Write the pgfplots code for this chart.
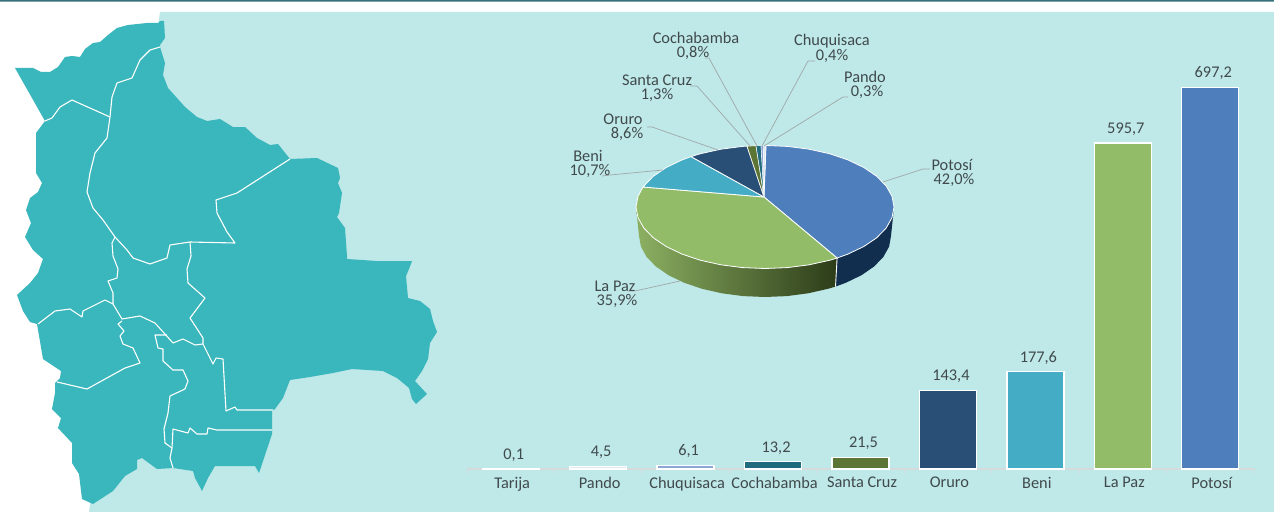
\documentclass[border=0pt]{standalone}
\usepackage{fontspec}
\setmainfont{Carlito}
\usepackage{pgfplots}
\pgfplotsset{compat=1.18}
\definecolor{bgteal}{HTML}{BFE8E8}
\definecolor{topbar}{HTML}{37707A}
\definecolor{mapteal}{HTML}{3AB6BD}
\definecolor{txt}{HTML}{404A4C}
\definecolor{leader}{HTML}{A0A8A8}
\definecolor{cPot}{HTML}{4E7FBC}
\definecolor{cPaz}{HTML}{92BC68}
\definecolor{cBen}{HTML}{44ACC4}
\definecolor{cOru}{HTML}{294F77}
\definecolor{cSC}{HTML}{5C7535}
\definecolor{cCoc}{HTML}{206B7D}
\definecolor{cChu}{HTML}{8CA6D6}
\definecolor{cPan}{HTML}{DFE8EE}
\definecolor{cTar}{HTML}{E4E8E8}
\definecolor{axisgray}{HTML}{D6DADA}
\definecolor{sideNavy}{HTML}{112E4E}
\definecolor{sideL}{HTML}{8CB062}
\definecolor{sideR}{HTML}{2C3C18}
\newcommand{\lbl}{\fontsize{16.4}{18}\selectfont}
\tikzset{pie label/.style={font=\lbl,text=txt,align=center,inner sep=0pt},
  border/.style={white,line width=1.1bp,line join=round},
  lead/.style={leader,line width=0.7bp}}
\begin{document}
\begin{tikzpicture}
\begin{axis}[name=canvas,at={(0bp,0bp)},anchor=south west,scale only axis,width=1274bp,height=512bp,
  xmin=0,xmax=1274,ymin=0,ymax=512,y dir=reverse,hide axis,clip=false]
% page
\addplot[fill=white,draw=none] coordinates {(0,0)(1274,0)(1274,512)(0,512)(0,0)};
\addplot[fill=topbar,draw=none] coordinates {(0,0)(1274,0)(1274,1.7)(0,1.7)(0,0)};
\addplot[fill=bgteal,draw=none] coordinates {(160,12)(1274,12)(1274,512)(89,512)(160,12)};
% map outline
\addplot[fill=mapteal,draw=none] coordinates {
(15,68)(33,68)(41,72)(50,72)(58,67)(65,57)(72,56)(80,57)(85,49)(93,43)(100,42)(108,35)(117,28)(128,25)(147,23)(158,23)(160,21)(164,21)(165,38)(160,45)
(160,47)(165,63)(163,75)(168,88)(177,98)(185,107)(197,117)(207,121)(220,119)(233,127)(245,127)(257,138)(270,145)(278,144)(290,159)
(317,158)(338,168)(340,178)(338,183)(342,193)(339,213)(337,217)(345,228)(347,256)
(347,259)(377,261)(412,261)(409,269)(406,276)(408,298)(420,301)(430,309)(433,321)(437,332)(430,343)(428,359)(422,371)(415,381)(427,394)(416,404)(412,399)(409,388)(397,378)(383,371)(352,369)(333,373)(310,377)(290,380)(283,398)(275,409)(272,411)(272,434)
(259,473)(255,466)(215,466)(208,478)(202,491)(195,478)(193,471)(173,468)(157,469)(142,458)(137,460)(137,469)(125,476)(113,491)(93,504)(82,499)(79,474)(72,463)(72,443)(58,428)(61,418)(52,409)(55,393)(55,383)
(60,378)(61,371)(43,359)(37,324)(30,322)(23,311)(17,295)(30,283)(38,273)(43,259)
(33,250)(25,237)(31,223)(26,210)(30,198)(38,192)(42,183)(36,173)(36,133)(45,121)(15,68)};
% department borders
\addplot[border] coordinates {(45,121)(52,118)(60,107)(72,100)(110,117)};
\addplot[border] coordinates {(110,117)(112,97)(117,83)(132,78)(140,60)(150,50)(160,47)};
\addplot[border] coordinates {(110,117)(107,138)(95,153)(90,173)(87,192)(93,208)(103,220)(115,237)(127,250)(133,258)(150,264)(167,258)(170,245)(190,242)(235,243)(227,232)(217,213)(216,200)(237,193)(290,159)};
\addplot[border] coordinates {(190,242)(191,256)(187,269)(188,283)(205,298)(190,318)(203,338)(203,344)};
\addplot[border] coordinates {(115,237)(112,243)(113,256)(118,269)(117,278)(108,281)(113,293)(113,304)};
\addplot[border] coordinates {(113,304)(105,300)(83,311)(82,317)(70,309)(55,311)(38,324)};
\addplot[border] coordinates {(113,304)(122,319)(140,316)(155,323)(173,343)(183,339)(195,345)(203,344)};
\addplot[border] coordinates {(122,321)(118,324)(124,331)(120,336)(123,344)(133,348)(140,363)(125,368)(87,389)(57,382)};
\addplot[border] coordinates {(167,335)(155,335)(158,348)(163,349)(163,361)(173,370)(183,370)(188,381)(185,389)(170,396)(168,413)(164,429)(165,443)(172,448)(170,458)(173,468)};
\addplot[border] coordinates {(172,448)(173,429)(188,433)(190,428)(197,434)(207,434)(208,428)(217,430)(272,430)};
\addplot[border] coordinates {(203,344)(213,364)(216,358)(223,359)(226,411)(235,407)(237,410)(273,410)};
% pie sides
\addplot[fill=sideNavy,draw=none] coordinates {
(894,207)(892,217.7)(886.2,228)(876.7,237.8)(863.8,246.5)(847.9,254.1)(837.1,258)(835.5,286.6)(846,282.7)(861.5,275.2)(874.1,266.5)(883.4,256.9)(889.1,246.6)(891,236)(894,207)};
\addplot[left color=sideL,right color=sideR,draw=none] coordinates {
(837.1,258)(829.5,260.3)(809.1,264.8)(787.4,267.6)(765,268.5)(742.6,267.6)(720.9,264.8)(700.5,260.3)(682.1,254.1)(666.2,246.5)(653.3,237.8)(643.8,228)(638,217.7)(636,207)
(639,236)(640.9,246.6)(646.6,256.9)(655.9,266.5)(668.5,275.2)(684,282.7)(702,288.8)(721.9,293.3)(743.1,296.1)(765,297)(786.9,296.1)(808.1,293.3)(828,288.8)(835.5,286.6)(837.1,258)};
\addplot[white,line width=0.9bp] coordinates {(837.1,258)(835.5,286.6)};
% pie top
\addplot[fill=cPot,draw=white,line width=0.8bp,line join=round] coordinates {
(764,197)(766,145.5)(787.4,146.4)(809.1,149.2)(829.5,153.7)(847.9,159.9)(863.8,167.5)(876.7,176.3)(886.2,186)(892,196.3)(894,207)(892,217.7)(886.2,228)(876.7,237.8)(863.8,246.5)(847.9,254.1)(837.1,258)(764,197)};
\addplot[fill=cPaz,draw=white,line width=0.8bp,line join=round] coordinates {
(764,197)(837.1,258)(829.5,260.3)(809.1,264.8)(787.4,267.6)(765,268.5)(742.6,267.6)(720.9,264.8)(700.5,260.3)(682.1,254.1)(666.2,246.5)(653.3,237.8)(643.8,228)(638,217.7)(636,207)(638,196.3)(643,187)(764,197)};
\addplot[fill=cBen,draw=white,line width=0.8bp,line join=round] coordinates {
(764,197)(643,187)(653.3,176.3)(666.2,167.5)(682.1,159.9)(691,156.6)(764,197)};
\addplot[fill=cOru,draw=white,line width=0.8bp,line join=round] coordinates {
(764,197)(691,156.6)(700.5,153.7)(720.9,149.2)(742.6,146.4)(747,146.1)(764,197)};
\addplot[fill=cSC,draw=white,line width=0.6bp,line join=round] coordinates {(764,197)(747,146.1)(756,145.7)(764,197)};
\addplot[fill=cCoc,draw=white,line width=0.5bp,line join=round] coordinates {(764,197)(756,145.7)(761,145.5)(764,197)};
\addplot[fill=cChu,draw=white,line width=0.4bp,line join=round] coordinates {(764,197)(761,145.5)(763.5,145.5)(764,197)};
\addplot[fill=cPan,draw=white,line width=0.4bp,line join=round] coordinates {(764,197)(763.5,145.5)(766,145.5)(764,197)};
% leaders
\addplot[lead] coordinates {(883,182)(923,169)(930,169)};
\addplot[lead] coordinates {(680,281)(635,291)(628,291)};
\addplot[lead] coordinates {(663,170)(610,175)(602,176)};
\addplot[lead] coordinates {(718,150)(652,127)(647,127)};
\addplot[lead] coordinates {(751,147)(697,86)(690,86)};
\addplot[lead] coordinates {(757,146)(709,58)(705,58)};
\addplot[lead] coordinates {(762,146)(808,61)(815,61)};
\addplot[lead] coordinates {(764,146)(843,97)(848,97)};
% pie labels
\node[pie label] at (696,37.5) {Cochabamba};
\node[pie label] at (693,53) {0,8\%};
\node[pie label] at (832,41) {Chuquisaca};
\node[pie label] at (832,56) {0,4\%};
\node[pie label] at (865,77) {Pando};
\node[pie label] at (867,92) {0,3\%};
\node[pie label] at (657,80) {Santa Cruz};
\node[pie label] at (657,95) {1,3\%};
\node[pie label] at (623,119) {Oruro};
\node[pie label] at (627,134) {8,6\%};
\node[pie label] at (588,156) {Beni};
\node[pie label] at (590,171) {10,7\%};
\node[pie label] at (952,165) {Potosí};
\node[pie label] at (954,180) {42,0\%};
\node[pie label] at (615,286) {La Paz};
\node[pie label] at (617,301) {35,9\%};
\end{axis}
\begin{axis}[at={(467bp,43bp)},anchor=south west,scale only axis,width=787bp,height=383bp,
  xmin=0.5,xmax=9.5,ymin=0,ymax=700,clip=false,
  axis y line=none,axis x line=bottom,axis line style={-,axisgray,line width=1.1bp},
  xtick={1,2,3,4,5,6,7,8,9},
  xticklabels={Tarija,Pando,Chuquisaca,Cochabamba,Santa Cruz,Oruro,Beni,La Paz,Potosí},
  minor xtick={0.5,1.5,2.5,3.5,4.5,5.5,6.5,7.5,8.5,9.5},
  major tick length=0pt,minor tick length=4bp,tick align=outside,
  minor tick style={axisgray,line width=0.8bp},
  x tick label style={font=\lbl,text=txt,inner sep=0pt,yshift=-8bp,xshift=1.5bp,anchor=north},
  ybar,bar width=57bp,
  /pgf/number format/.cd,use comma,fixed,fixed zerofill,precision=1,assume math mode=true,/tikz/.cd,
  nodes near coords,
  every node near coord/.append style={font=\lbl,text=txt,inner sep=0pt,anchor=south,xshift=3bp,yshift=7bp},
  every axis plot/.append style={bar shift=0pt,draw=white,line width=1.3bp}]
\addplot[fill=cTar] coordinates {(1,0.1)};
\addplot[fill=cPan] coordinates {(2,4.5)};
\addplot[fill=cChu] coordinates {(3,6.1)};
\addplot[fill=cCoc] coordinates {(4,13.2)};
\addplot[fill=cSC] coordinates {(5,21.5)};
\addplot[fill=cOru] coordinates {(6,143.4)};
\addplot[fill=cBen] coordinates {(7,177.6)};
\addplot[fill=cPaz] coordinates {(8,595.7)};
\addplot[fill=cPot] coordinates {(9,697.2)};
\end{axis}
\end{tikzpicture}
\end{document}
